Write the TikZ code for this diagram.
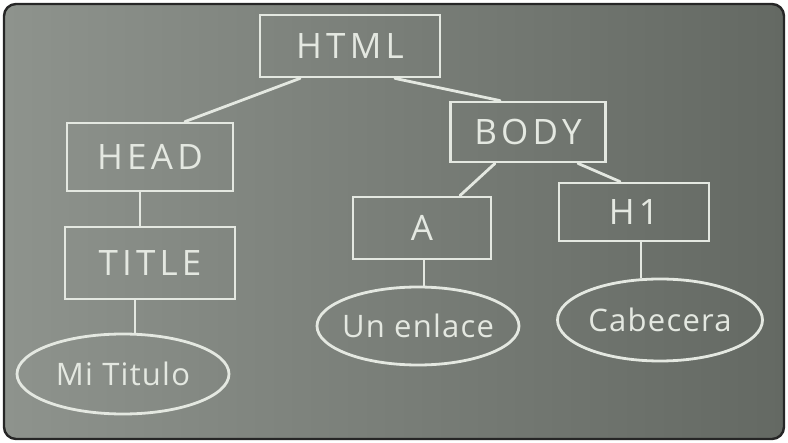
\documentclass[tikz,border=0pt]{standalone}
\usepackage{fontspec}
\newfontfamily\chalkfont[LetterSpace=12]{Open Sans}
\newfontfamily\leaffont[LetterSpace=4]{Open Sans}
\usepackage{tikz}
\usetikzlibrary{calc, positioning, shapes.geometric}
\usepackage{xcolor}
\definecolor{chalk}{HTML}{E4E8E1}
\definecolor{boardL}{HTML}{8E938D}
\definecolor{boardM}{HTML}{737872}
\definecolor{boardR}{HTML}{646963}
% text of an ellipse keeps out of its size
\newcommand{\leaftext}[1]{\makebox[0pt]{#1}}

\begin{document}
\begin{tikzpicture}[x=1pt, y=-1pt,
  box/.style={draw=chalk, line width=2.8pt, inner sep=0pt, text=chalk,
    font=\chalkfont\fontsize{35}{40}\selectfont},
  leaf/.style={ellipse, draw=chalk, line width=2.8pt, inner sep=0pt, text=chalk,
    font=\leaffont\fontsize{31}{36}\selectfont},
  chalkline/.style={draw=chalk, line width=2.8pt, line cap=round}]
\useasboundingbox (0,0) rectangle (788,443);
\shade[rounded corners=12pt, left color=boardL, middle color=boardM, right color=boardR]
  (4,4) rectangle (784,439);
\draw[rounded corners=12pt, line width=2.4pt, draw=black!85] (4,4) rectangle (784,439);

\node[box, minimum width=180pt, minimum height=62pt] (html) at (350,46) {HTML};
\node[box, minimum width=166pt, minimum height=68pt] (head) at (150,157) {HEAD};
\node[box, minimum width=155pt, minimum height=60pt] (body) at (528,132) {BODY};
\node[box, minimum width=170pt, minimum height=72pt] (title) at (150,263) {TITLE};
\node[box, minimum width=138pt, minimum height=62pt] (a) at (422,228) {A};
\node[box, minimum width=150pt, minimum height=58pt] (h1) at (634,212) {H1};

\node[leaf, minimum width=212pt, minimum height=80pt] (mititulo) at (123,374) {\leaftext{Mi Titulo}};
\node[leaf, minimum width=202pt, minimum height=78pt] (unenlace) at (418,326) {\leaftext{Un enlace}};
\node[leaf, minimum width=205pt, minimum height=82pt] (cabecera) at (660,320) {\leaftext{Cabecera}};

\draw[chalkline] ([xshift=-50pt]html.south) -- ([xshift=35pt]head.north);
\draw[chalkline] ([xshift=45pt]html.south) -- ([xshift=-28pt]body.north);
\draw[chalkline] ([xshift=-10pt]head.south) -- ([xshift=-10pt]head.south |- title.north);
\draw[chalkline] ([xshift=-33pt]body.south) -- ([xshift=38pt]a.north);
\draw[chalkline] ([xshift=50pt]body.south) -- ([xshift=-14pt]h1.north);
\draw[chalkline] ([xshift=-15pt]title.south) -- ([xshift=-15pt]title.south |- mititulo.north);
\draw[chalkline] ([xshift=2pt]a.south) -- ([xshift=2pt]a.south |- unenlace.north);
\draw[chalkline] ([xshift=7pt]h1.south) -- ([xshift=7pt]h1.south |- cabecera.north);
\end{tikzpicture}
\end{document}
